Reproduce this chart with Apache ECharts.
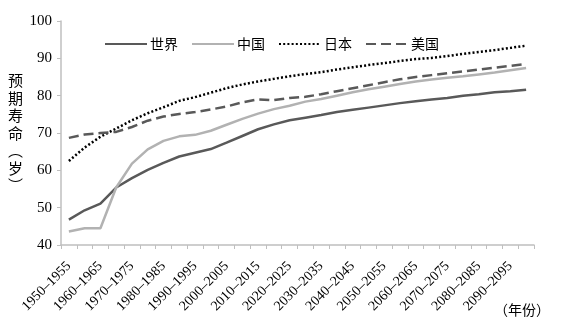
<!DOCTYPE html>
<html>
<head>
<meta charset="utf-8">
<script src="https://cdn.jsdelivr.net/npm/echarts@6/dist/echarts.min.js"></script>
<style>
  html, body { margin: 0; padding: 0; background: #fff; }
  #chart { width: 568px; height: 336px; }
</style>
</head>
<body>
<div id="chart"></div>
<script>
// Five-year periods, 1950–1955 through 2095–2100
const periods = [
  '1950–1955', '1955–1960', '1960–1965', '1965–1970', '1970–1975', '1975–1980',
  '1980–1985', '1985–1990', '1990–1995', '1995–2000', '2000–2005', '2005–2010',
  '2010–2015', '2015–2020', '2020–2025', '2025–2030', '2030–2035', '2035–2040',
  '2040–2045', '2045–2050', '2050–2055', '2055–2060', '2060–2065', '2065–2070',
  '2070–2075', '2075–2080', '2080–2085', '2085–2090', '2090–2095', '2095–2100'
];

// Life expectancy at birth (years)
const world = [
  46.8, 49.3, 51.1, 55.4, 57.9, 60.1, 62.0, 63.7, 64.7, 65.7,
  67.4, 69.2, 71.0, 72.3, 73.4, 74.1, 74.8, 75.6, 76.2, 76.8,
  77.4, 78.0, 78.5, 79.0, 79.4, 80.0, 80.4, 80.9, 81.2, 81.6
];
const china = [
  43.6, 44.5, 44.5, 55.4, 61.8, 65.6, 67.9, 69.1, 69.5, 70.6,
  72.2, 73.8, 75.2, 76.4, 77.3, 78.4, 79.1, 80.0, 80.9, 81.7,
  82.4, 83.1, 83.8, 84.3, 84.8, 85.2, 85.7, 86.2, 86.8, 87.4
];
const japan = [
  62.5, 66.1, 69.0, 71.2, 73.4, 75.3, 76.9, 78.6, 79.6, 80.8,
  82.0, 83.0, 83.8, 84.5, 85.2, 85.8, 86.3, 87.0, 87.6, 88.2,
  88.7, 89.3, 89.8, 90.1, 90.6, 91.2, 91.7, 92.2, 92.8, 93.4
];
const usa = [
  68.7, 69.6, 70.0, 70.3, 71.6, 73.3, 74.4, 75.1, 75.6, 76.3,
  77.1, 78.2, 79.0, 78.8, 79.4, 79.7, 80.4, 81.2, 82.0, 82.8,
  83.6, 84.4, 85.0, 85.5, 86.0, 86.5, 87.0, 87.5, 88.0, 88.5
];

const seriesNames = ['世界', '中国', '日本', '美国'];
const yTicks = { min: 40, max: 100, interval: 10 };

const cjk = '"Noto Sans CJK SC", "Noto Sans", sans-serif';
const num = '"Liberation Serif", "DejaVu Serif", serif';

const chart = echarts.init(document.getElementById('chart'), null, { renderer: 'canvas' });

function line(name, data, color, width, type) {
  return {
    name: name,
    type: 'line',
    data: data,
    symbol: 'none',
    smooth: false,
    lineStyle: { color: color, width: width, type: type, cap: 'butt' },
    itemStyle: { color: color },
    emphasis: { disabled: true }
  };
}

chart.setOption({
  animation: false,
  backgroundColor: '#fff',
  grid: { left: 61, right: 34, top: 21, bottom: 91, containLabel: false },
  legend: {
    data: seriesNames,
    left: 99,
    top: 32,
    itemWidth: 42,
    itemHeight: 14,
    itemGap: 13,
    // legend keys show only the line stroke, no marker
    itemStyle: { opacity: 0 },
    textStyle: { fontFamily: cjk, fontSize: 14, color: '#000', padding: [0, 0, 0, -2] }
  },
  xAxis: {
    type: 'category',
    data: periods,
    boundaryGap: true,
    axisLine: { lineStyle: { color: '#bfbfbf', width: 1.5 } },
    axisTick: { show: true, alignWithLabel: false, interval: 0, length: 4, lineStyle: { color: '#bfbfbf' } },
    axisLabel: {
      interval: 1,
      rotate: 45,
      margin: 19,
      fontFamily: num,
      fontSize: 14,
      color: '#000'
    },
    splitLine: { show: false }
  },
  yAxis: {
    type: 'value',
    min: yTicks.min,
    max: yTicks.max,
    interval: yTicks.interval,
    name: '预\n期\n寿\n命\n︵\n岁\n︶',
    nameLocation: 'middle',
    nameRotate: 0,
    nameGap: 38,
    nameTextStyle: { fontFamily: cjk, fontSize: 15, lineHeight: 17.5, color: '#000' },
    axisLine: { show: true, lineStyle: { color: '#bfbfbf', width: 1.5 } },
    axisTick: { show: true, inside: false, length: 4, lineStyle: { color: '#bfbfbf' } },
    axisLabel: { margin: 9, fontFamily: num, fontSize: 15, color: '#000' },
    splitLine: { show: false }
  },
  graphic: [{
    type: 'text',
    left: 494,
    top: 303,
    style: { text: '（年份）', font: '14px ' + cjk, fill: '#000' }
  }],
  series: [
    line(seriesNames[0], world, '#595959', 2.5, 'solid'),
    line(seriesNames[1], china, '#b2b2b2', 2.5, 'solid'),
    line(seriesNames[2], japan, '#000000', 2.5, [2, 2.2]),
    line(seriesNames[3], usa, '#595959', 2.5, [10, 5])
  ]
});
</script>
</body>
</html>
